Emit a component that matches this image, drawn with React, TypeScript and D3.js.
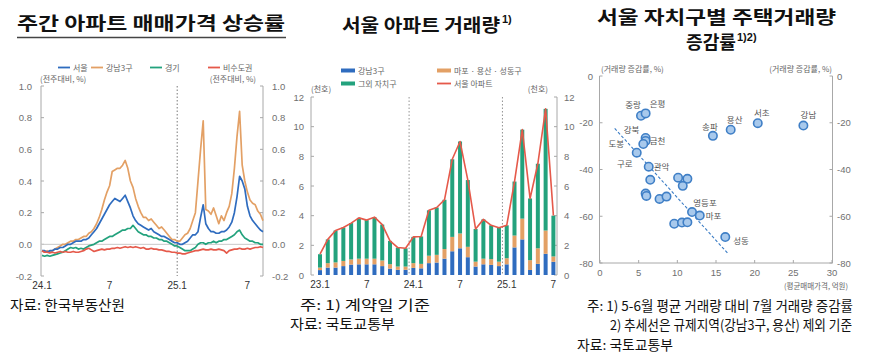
import React from 'react';
import * as d3 from 'd3';

const KR = "'Noto Sans CJK KR', 'Noto Sans', sans-serif";
const NUM = "'Liberation Sans', Arial, sans-serif";

// ---------- Chart 1: weekly apartment price change (index 0 = 24.1 first week) ----------
const weeklySeoul = [-0.04,-0.04,-0.05,-0.04,-0.04,-0.03,-0.03,-0.02,-0.02,-0.01, 0.0,0.0,0.01,0.02,0.02,0.02,0.03,0.03,0.04,0.06, 0.08,0.1,0.13,0.16,0.19,0.22,0.25,0.27,0.29,0.28, 0.27,0.29,0.31,0.27,0.23,0.18,0.15,0.13,0.12,0.11, 0.1,0.09,0.1,0.08,0.07,0.06,0.05,0.05,0.04,0.03, 0.02,0.01,0.01,0.0,0.0,0.01,0.02,0.04,0.06,0.06, 0.08,0.17,0.25,0.13,0.1,0.08,0.08,0.07,0.07,0.08, 0.08,0.09,0.11,0.14,0.2,0.3,0.43,0.4,0.35,0.24, 0.18,0.15,0.13,0.11,0.09,0.08];
const weeklyGangnam3 = [-0.04,-0.05,-0.04,-0.05,-0.04,-0.03,-0.02,-0.01,0.0,0.0, 0.01,0.02,0.02,0.03,0.03,0.04,0.05,0.05,0.07,0.08, 0.1,0.13,0.17,0.22,0.28,0.33,0.37,0.46,0.47,0.48, 0.48,0.5,0.53,0.48,0.4,0.36,0.29,0.24,0.2,0.17, 0.17,0.15,0.16,0.14,0.12,0.1,0.11,0.09,0.07,0.05, 0.03,0.03,0.02,0.02,0.04,0.06,0.07,0.1,0.15,0.2, 0.4,0.6,0.78,0.22,0.21,0.19,0.23,0.18,0.13,0.18, 0.15,0.2,0.24,0.32,0.48,0.68,0.84,0.5,0.4,0.33, 0.28,0.26,0.25,0.21,0.19,0.15];
const weeklyGyeonggi = [-0.07,-0.075,-0.07,-0.075,-0.07,-0.065,-0.06,-0.055,-0.05,-0.04, -0.03,-0.02,-0.025,-0.02,-0.03,-0.025,-0.03,-0.02,-0.01,-0.005, 0.0,0.01,0.02,0.02,0.03,0.04,0.05,0.05,0.06,0.07, 0.08,0.09,0.09,0.1,0.1,0.12,0.1,0.08,0.07,0.06, 0.06,0.05,0.05,0.04,0.04,0.03,0.03,0.02,0.02,0.01, 0.0,-0.01,-0.01,-0.02,-0.03,-0.04,-0.04,-0.04,-0.03,-0.02, 0.0,0.01,0.01,0.0,0.01,0.01,0.02,0.01,0.02,0.02, 0.03,0.03,0.04,0.05,0.06,0.08,0.09,0.06,0.04,0.03, 0.02,0.02,0.01,0.01,0.0,0.0];
const weeklyNonCapital = [-0.04,-0.05,-0.05,-0.055,-0.05,-0.055,-0.05,-0.045,-0.05,-0.045, -0.05,-0.05,-0.045,-0.05,-0.05,-0.045,-0.04,-0.03,-0.025,-0.035, -0.045,-0.04,-0.035,-0.03,-0.035,-0.03,-0.03,-0.025,-0.025,-0.02, -0.025,-0.02,-0.015,-0.02,-0.015,-0.02,-0.015,-0.02,-0.025,-0.02, -0.03,-0.03,-0.025,-0.03,-0.03,-0.035,-0.035,-0.04,-0.045,-0.045, -0.05,-0.05,-0.055,-0.055,-0.06,-0.06,-0.055,-0.05,-0.045,-0.04, -0.04,-0.035,-0.03,-0.035,-0.035,-0.03,-0.035,-0.035,-0.03,-0.035, -0.04,-0.055,-0.04,-0.035,-0.03,-0.03,-0.025,-0.03,-0.03,-0.025, -0.03,-0.025,-0.02,-0.02,-0.015,-0.02];
const weekTickIdx = [0, 26, 52, 79];
const weekTickLabels = ['24.1', '7', '25.1', '7'];
const weekYTicks = [-0.2, 0, 0.2, 0.4, 0.6, 0.8, 1.0];
const weeklySeriesNames = ['서울', '강남3구', '경기', '비수도권'];

// ---------- Chart 2: monthly Seoul apartment transactions (thousand units) ----------
const months = ['23.1','23.2','23.3','23.4','23.5','23.6','23.7','23.8','23.9','23.10','23.11','23.12','24.1','24.2','24.3','24.4','24.5','24.6','24.7','24.8','24.9','24.10','24.11','24.12','25.1','25.2','25.3','25.4','25.5','25.6','25.7'];
const txGangnam3 = [0.33,0.5,0.5,0.6,0.7,0.72,0.72,0.72,0.6,0.43,0.35,0.35,0.48,0.45,0.8,0.84,1.1,1.6,1.8,1.2,0.57,0.72,0.68,0.6,0.72,1.86,2.4,0.34,0.75,1.43,0.89];
const txMapoYongsanSeongdong = [0.17,0.3,0.35,0.35,0.35,0.38,0.38,0.38,0.38,0.3,0.22,0.22,0.32,0.3,0.5,0.52,0.65,0.97,1.0,0.7,0.33,0.38,0.39,0.3,0.41,0.8,1.4,0.66,1.05,1.57,0.36];
const txOthers = [0.9,1.6,2.15,2.25,2.45,2.75,2.6,2.8,2.42,1.57,1.28,1.23,1.77,1.85,3.06,3.19,3.32,5.23,6.2,4.5,2.2,2.65,2.28,2.28,2.22,3.64,6.0,4.16,5.7,8.2,2.75];
const monthTickIdx = [0, 6, 12, 18, 24, 30];
const monthTickLabels = ['23.1', '7', '24.1', '7', '25.1', '7'];
const txYTicks = [0, 2, 4, 6, 8, 10, 12];

// ---------- Chart 3: district scatter ----------
const districtNames = ['중랑','은평','강북','금천','도봉','구로','관악','송파','용산','서초','강남','영등포','마포','성동'];
const districtPrice = [5.3, 5.9, 5.9, 5.9, 5.6, 4.75, 6.3, 14.6, 16.9, 20.4, 26.3, 11.9, 12.9, 16.2];
const districtChange = [-17.0, -16.0, -26.5, -27.8, -29.1, -32.8, -38.8, -25.6, -23.0, -20.2, -21.2, -58.2, -59.7, -68.9];
const otherPrice = [6.5, 5.9, 6.0, 7.7, 8.6, 10.1, 11.3, 10.7, 9.6, 10.6, 11.3];
const otherChange = [-44.4, -50.3, -51.3, -52.6, -51.6, -43.5, -44.0, -47.0, -63.2, -62.7, -62.6];
const trendPrice = [1.9, 16.5];
const trendChange = [-22.4, -75.8];
const scatterXTicks = [0, 5, 10, 15, 20, 25, 30];
const scatterYTicks = [0, -20, -40, -60, -80];

// label placement (style only): [dx, dy, anchor]
const labelPlace: Record<string, [number, number, string]> = {
  '중랑': [-8, -8, 'middle'], '은평': [12, -6, 'middle'], '강북': [-14, -5, 'middle'],
  '금천': [4, 3, 'start'], '도봉': [-27, 3, 'middle'], '구로': [-12, 14, 'middle'],
  '관악': [5, 3, 'start'], '송파': [-3, -6, 'middle'], '용산': [4, -7, 'middle'],
  '서초': [4, -7, 'middle'], '강남': [5, -8, 'middle'], '영등포': [13, -6, 'middle'],
  '마포': [6, 3, 'start'], '성동': [8, 7, 'start'],
};

const C_BLUE = '#2f6cbf';
const C_ORANGE = '#e3a065';
const C_GREEN = '#23a27d';
const C_RED = '#e5594a';
const AXIS = '#a8a8a8';
const TICKTXT = '#707070';

export default function App() {
  // ----- chart 1 -----
  const x1 = d3.scaleLinear().domain([0, 85]).range([42, 263]);
  const y1 = d3.scaleLinear().domain([-0.2, 1.0]).range([276, 86]);
  const line1 = d3.line<number>().x((_, i) => x1(i)).y((d) => y1(d));
  const weekly = [
    { v: weeklyGangnam3, c: C_ORANGE },
    { v: weeklySeoul, c: C_BLUE },
    { v: weeklyGyeonggi, c: C_GREEN },
    { v: weeklyNonCapital, c: C_RED },
  ];
  const legend1 = [
    { n: weeklySeriesNames[0], c: C_BLUE, x: 58 },
    { n: weeklySeriesNames[1], c: C_ORANGE, x: 91 },
    { n: weeklySeriesNames[2], c: C_GREEN, x: 150 },
    { n: weeklySeriesNames[3], c: C_RED, x: 208 },
  ];

  // ----- chart 2 -----
  const x2 = d3.scaleLinear().domain([0, 30]).range([320, 553.4]);
  const y2 = d3.scaleLinear().domain([0, 12]).range([275, 97]);
  const table = months.map((m, i) => ({ m, g: txGangnam3[i], p: txMapoYongsanSeongdong[i], o: txOthers[i] }));
  const stack = d3.stack<any>().keys(['g', 'p', 'o'])(table);
  const stackColors = [C_BLUE, C_ORANGE, C_GREEN];
  const totals = table.map((r) => r.g + r.p + r.o);
  const line2 = d3.line<number>().x((_, i) => x2(i)).y((d) => y2(d));
  const bw = 4;

  // ----- chart 3 -----
  const x3 = d3.scaleLinear().domain([0, 30]).range([600, 832]);
  const y3 = d3.scaleLinear().domain([-80, 0]).range([263, 76]);
  const trendLine = d3.line<number>().x((d) => x3(d)).y((_, i) => y3(trendChange[i]))(trendPrice);

  const tickTxt = { fontFamily: NUM, fontSize: 9.5, fill: TICKTXT } as const;
  const xTickTxt = { fontFamily: NUM, fontSize: 10, fill: '#333' } as const;
  const small = { fontFamily: KR, fontSize: 8, fill: '#666' } as const;
  const foot = { fontFamily: KR, fontSize: 13.5, fill: '#111' } as const;

  return (
    <svg width={875} height={362} style={{ position: 'absolute', left: 0, top: 0, background: '#fff' }}>
      {/* ================= Titles ================= */}
      <text x={17} y={30} fontFamily={KR} fontWeight={700} fontSize={18} fill="#111" textLength={268} lengthAdjust="spacingAndGlyphs">주간 아파트 매매가격 상승률</text>
      <line x1={17} x2={286} y1={37.5} y2={37.5} stroke="#444" strokeWidth={1.4} />

      <text x={342} y={32} fontFamily={KR} fontWeight={700} fontSize={18} fill="#111" textLength={158} lengthAdjust="spacingAndGlyphs">서울 아파트 거래량</text>
      <text x={502} y={23} fontFamily={NUM} fontWeight={700} fontSize={11} fill="#111">1)</text>

      <text x={597} y={24} fontFamily={KR} fontWeight={700} fontSize={18} fill="#111" textLength={239} lengthAdjust="spacingAndGlyphs">서울 자치구별 주택거래량</text>
      <text x={686} y={49} fontFamily={KR} fontWeight={700} fontSize={18} fill="#111" textLength={50} lengthAdjust="spacingAndGlyphs">증감률</text>
      <text x={737} y={41} fontFamily={NUM} fontWeight={700} fontSize={11} fill="#111">1)2)</text>

      {/* ================= Chart 1 ================= */}
      {legend1.map((l) => (
        <g key={l.n}>
          <line x1={l.x} x2={l.x + 12} y1={67.5} y2={67.5} stroke={l.c} strokeWidth={1.8} />
          <text x={l.x + 15} y={70.5} {...small}>{l.n}</text>
        </g>
      ))}
      <text x={40} y={82} {...small}>(전주대비, %)</text>
      <text x={256} y={82} {...small} textAnchor="end">(전주대비, %)</text>
      <line x1={41} x2={41} y1={y1(1.0)} y2={y1(-0.2)} stroke={AXIS} strokeWidth={1} />
      <line x1={263} x2={263} y1={y1(1.0)} y2={y1(-0.2)} stroke={AXIS} strokeWidth={1} />
      {weekYTicks.map((t) => (
        <g key={t}>
          <line x1={41} x2={44} y1={y1(t)} y2={y1(t)} stroke={AXIS} />
          <line x1={260} x2={263} y1={y1(t)} y2={y1(t)} stroke={AXIS} />
          <text x={32} y={y1(t) + 3.5} textAnchor="end" {...tickTxt}>{t.toFixed(1)}</text>
          <text x={272} y={y1(t) + 3.5} {...tickTxt}>{t.toFixed(1)}</text>
        </g>
      ))}
      <line x1={41} x2={263} y1={y1(0)} y2={y1(0)} stroke="#c8c8c8" strokeWidth={1} />
      <line x1={x1(52)} x2={x1(52)} y1={y1(1.0)} y2={y1(-0.2)} stroke="#555" strokeWidth={0.8} strokeDasharray="1.5,2" />
      {weekly.map((s, i) => (
        <path key={i} d={line1(s.v) || ''} fill="none" stroke={s.c} strokeWidth={1.7} strokeLinejoin="round" />
      ))}
      {weekTickIdx.map((t, i) => (
        <text key={i} x={x1(t)} y={289} textAnchor="middle" {...xTickTxt}>{weekTickLabels[i]}</text>
      ))}

      {/* ================= Chart 2 ================= */}
      <line x1={341} x2={355} y1={70.5} y2={70.5} stroke={C_BLUE} strokeWidth={4} />
      <text x={358} y={73.5} {...small}>강남3구</text>
      <line x1={341} x2={355} y1={83.5} y2={83.5} stroke={C_GREEN} strokeWidth={4} />
      <text x={358} y={86.5} {...small}>그외 자치구</text>
      <line x1={437} x2={451} y1={70.5} y2={70.5} stroke={C_ORANGE} strokeWidth={4} />
      <text x={454} y={73.5} {...small}>마포 · 용산 · 성동구</text>
      <line x1={437} x2={451} y1={83.5} y2={83.5} stroke={C_RED} strokeWidth={1.8} />
      <text x={454} y={86.5} {...small}>서울 아파트</text>
      <text x={311} y={92} {...small}>(천호)</text>
      <text x={548} y={92} {...small} textAnchor="end">(천호)</text>
      <line x1={311} x2={311} y1={y2(12)} y2={y2(0)} stroke={AXIS} />
      <line x1={557} x2={557} y1={y2(12)} y2={y2(0)} stroke={AXIS} />
      {txYTicks.map((t) => (
        <g key={t}>
          <line x1={311} x2={314} y1={y2(t)} y2={y2(t)} stroke={AXIS} />
          <line x1={554} x2={557} y1={y2(t)} y2={y2(t)} stroke={AXIS} />
          <text x={304} y={y2(t) + 3.5} textAnchor="end" {...tickTxt}>{t}</text>
          <text x={564} y={y2(t) + 3.5} {...tickTxt}>{t}</text>
        </g>
      ))}
      {[11.45, 23.45].map((d) => (
        <line key={d} x1={x2(d)} x2={x2(d)} y1={y2(12)} y2={y2(0)} stroke="#777" strokeWidth={0.8} strokeDasharray="1.5,2" />
      ))}
      {stack.map((layer, li) => (
        <g key={li}>
          {layer.map((seg, i) => (
            <rect key={i} x={x2(i) - bw / 2} width={bw} y={y2(seg[1])} height={y2(seg[0]) - y2(seg[1])} fill={stackColors[li]} />
          ))}
        </g>
      ))}
      <path d={line2(totals) || ''} fill="none" stroke={C_RED} strokeWidth={1.6} strokeLinejoin="round" />
      {monthTickIdx.map((t, i) => (
        <text key={i} x={x2(t)} y={288} textAnchor="middle" {...xTickTxt}>{monthTickLabels[i]}</text>
      ))}

      {/* ================= Chart 3 ================= */}
      <text x={601} y={72} {...small}>(거래량 증감률, %)</text>
      <text x={832} y={72} {...small} textAnchor="end">(거래량 증감률, %)</text>
      <line x1={599.5} x2={599.5} y1={y3(0)} y2={y3(-80)} stroke={AXIS} />
      <line x1={832.5} x2={832.5} y1={y3(0)} y2={y3(-80)} stroke={AXIS} />
      <line x1={599.5} x2={832.5} y1={y3(-80)} y2={y3(-80)} stroke={AXIS} />
      {scatterYTicks.map((t) => (
        <g key={t}>
          <line x1={599.5} x2={602.5} y1={y3(t)} y2={y3(t)} stroke={AXIS} />
          <line x1={829.5} x2={832.5} y1={y3(t)} y2={y3(t)} stroke={AXIS} />
          <text x={593} y={y3(t) + 3.5} textAnchor="end" {...tickTxt}>{t}</text>
          <text x={837} y={y3(t) + 3.5} {...tickTxt}>{t}</text>
        </g>
      ))}
      {scatterXTicks.map((t) => (
        <g key={t}>
          <line x1={x3(t)} x2={x3(t)} y1={y3(-80)} y2={y3(-80) - 3} stroke={AXIS} />
          <text x={x3(t)} y={276} textAnchor="middle" {...tickTxt}>{t}</text>
        </g>
      ))}
      <text x={848} y={289} textAnchor="end" fontFamily={KR} fontSize={7.5} fill="#666">(평균매매가격, 억원)</text>
      <path d={trendLine || ''} fill="none" stroke="#3a7cc5" strokeWidth={1.1} strokeDasharray="3,2" />
      {otherPrice.map((p, i) => (
        <circle key={'o' + i} cx={x3(p)} cy={y3(otherChange[i])} r={4.2} fill="#a8c9ec" stroke="#3f7fc6" strokeWidth={1.6} />
      ))}
      {districtPrice.map((p, i) => (
        <circle key={'d' + i} cx={x3(p)} cy={y3(districtChange[i])} r={4.2} fill="#a8c9ec" stroke="#3f7fc6" strokeWidth={1.6} />
      ))}
      {districtNames.map((n, i) => {
        const [dx, dy, anchor] = labelPlace[n];
        return (
          <text key={n} x={x3(districtPrice[i]) + dx} y={y3(districtChange[i]) + dy} textAnchor={anchor as any} fontFamily={KR} fontSize={8.5} fill="#555">{n}</text>
        );
      })}

      {/* ================= Footers ================= */}
      <text x={10} y={310} {...foot} textLength={115} lengthAdjust="spacingAndGlyphs">자료: 한국부동산원</text>
      <text x={300} y={310} {...foot} textLength={130} lengthAdjust="spacingAndGlyphs">주: 1) 계약일 기준</text>
      <text x={290} y={329} {...foot} textLength={105} lengthAdjust="spacingAndGlyphs">자료: 국토교통부</text>
      <text x={587} y={311} {...foot} textLength={266} lengthAdjust="spacingAndGlyphs">주: 1) 5-6월 평균 거래량 대비 7월 거래량 증감률</text>
      <text x={610} y={330} {...foot} textLength={242} lengthAdjust="spacingAndGlyphs">2) 추세선은 규제지역(강남3구, 용산) 제외 기준</text>
      <text x={577} y={350} {...foot} textLength={96} lengthAdjust="spacingAndGlyphs">자료: 국토교통부</text>
    </svg>
  );
}
